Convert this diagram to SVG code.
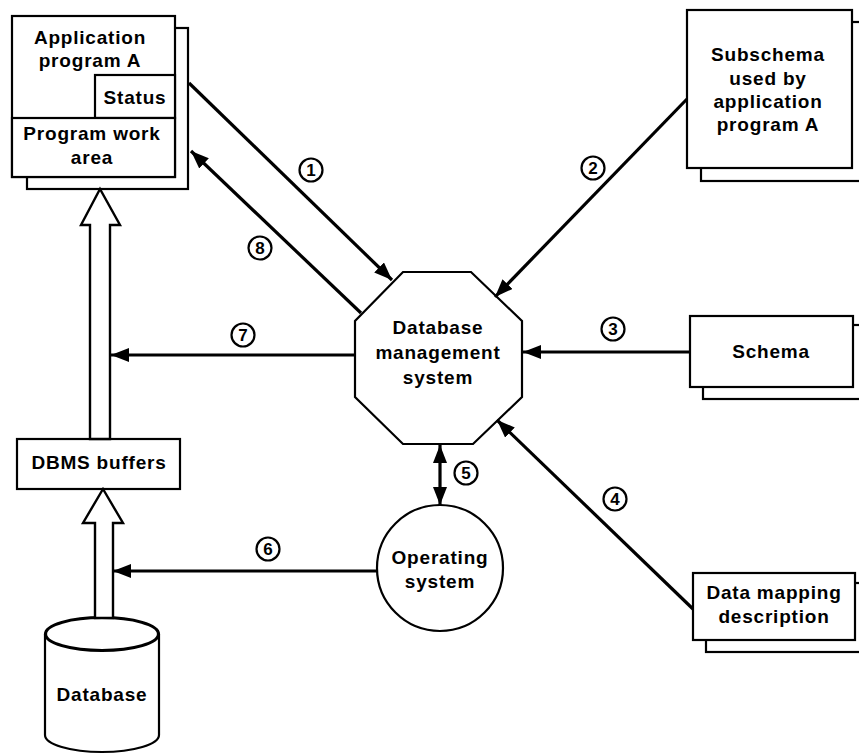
<svg xmlns="http://www.w3.org/2000/svg" width="859" height="754" viewBox="0 0 859 754">
<defs>
<style>
.box{fill:#fff;stroke:#000;stroke-width:2.2}
.t{font-family:"Liberation Sans",Arial,sans-serif;font-weight:bold;font-size:19px;letter-spacing:0.8px;text-anchor:middle;fill:#000}
.conn{stroke:#000;stroke-width:3.2;fill:none}
.num{fill:#fff;stroke:#000;stroke-width:2.2}
.nt{font-family:"Liberation Sans",Arial,sans-serif;font-weight:bold;font-size:17px;text-anchor:middle;fill:#000}
.hollow{fill:#fff;stroke:#000;stroke-width:2.4;stroke-linejoin:miter}
</style>
<marker id="ah" viewBox="0 0 18 14" refX="18" refY="7" markerWidth="18" markerHeight="14" markerUnits="userSpaceOnUse" orient="auto-start-reverse">
<path d="M0,0 L18,7 L0,14 Z" fill="#000"/>
</marker>
</defs>
<rect width="859" height="754" fill="#fff"/>

<g id="appA">
<rect class="box" x="27" y="28" width="161" height="161"/>
<rect class="box" x="12" y="16" width="163" height="161"/>
<rect class="box" x="95" y="75" width="80" height="43"/>
<rect class="box" x="12" y="118" width="163" height="59"/>
<text class="t" x="90" y="44">Application</text>
<text class="t" x="90" y="67">program A</text>
<text class="t" x="135" y="104">Status</text>
<text class="t" x="92" y="140">Program work</text>
<text class="t" x="92" y="164">area</text>
</g>

<g id="subschema">
<rect class="box" x="701" y="22" width="170" height="159"/>
<rect class="box" x="687" y="10" width="165" height="158"/>
<text class="t" x="768" y="61">Subschema</text>
<text class="t" x="768" y="85">used by</text>
<text class="t" x="768" y="108">application</text>
<text class="t" x="768" y="131">program A</text>
</g>

<g id="schema">
<rect class="box" x="703" y="325" width="170" height="74"/>
<rect class="box" x="690" y="316" width="163" height="71"/>
<text class="t" x="771" y="358">Schema</text>
</g>

<g id="datamapping">
<rect class="box" x="706" y="583" width="170" height="69"/>
<rect class="box" x="693" y="573" width="162" height="67"/>
<text class="t" x="774" y="599">Data mapping</text>
<text class="t" x="774" y="623">description</text>
</g>

<g id="dbms">
<polygon class="box" points="403,272 471,272 522,321 522,397 473,444 403,444 355,397 355,321"/>
<text class="t" x="438" y="334">Database</text>
<text class="t" x="438" y="359">management</text>
<text class="t" x="438" y="384">system</text>
</g>

<g id="os">
<circle class="box" cx="440" cy="568" r="63"/>
<text class="t" x="440" y="564">Operating</text>
<text class="t" x="440" y="588">system</text>
</g>

<g id="buffers">
<rect class="box" x="17" y="439" width="163" height="50"/>
<text class="t" x="99" y="469">DBMS buffers</text>
</g>

<g id="database">
<path class="box" d="M45,634 L45,735 A57,17 0 0 0 159,735 L159,634"/>
<ellipse class="box" cx="102" cy="634" rx="57" ry="17"/>
<text class="t" x="102" y="701">Database</text>
</g>

<g id="connectors">
<polygon class="hollow" points="90,439 90,225 81,225 100,189 120,225 110,225 110,439"/>
<polygon class="hollow" points="95,618 95,523 83,523 103,489 123,523 113,523 113,618"/>
<ellipse cx="102" cy="634" rx="56" ry="16" fill="none" stroke="#000" stroke-width="2.2"/>
<line class="conn" x1="189" y1="83" x2="392" y2="280" marker-end="url(#ah)"/>
<line class="conn" x1="361" y1="313" x2="191" y2="151" marker-end="url(#ah)"/>
<line class="conn" x1="687" y1="99" x2="495" y2="297" marker-end="url(#ah)"/>
<line class="conn" x1="690" y1="352" x2="523" y2="352" marker-end="url(#ah)"/>
<line class="conn" x1="693" y1="609" x2="497" y2="420" marker-end="url(#ah)"/>
<line class="conn" x1="440" y1="445" x2="440" y2="505" marker-start="url(#ah)" marker-end="url(#ah)"/>
<line class="conn" x1="377" y1="571" x2="113" y2="571" marker-end="url(#ah)"/>
<line class="conn" x1="355" y1="355" x2="111" y2="355" marker-end="url(#ah)"/>
</g>

<g id="labels">
<circle class="num" cx="311" cy="170" r="11.5"/><text class="nt" x="311" y="176">1</text>
<circle class="num" cx="593" cy="168" r="11.5"/><text class="nt" x="593" y="174">2</text>
<circle class="num" cx="613" cy="329" r="11.5"/><text class="nt" x="613" y="335">3</text>
<circle class="num" cx="615" cy="499" r="11.5"/><text class="nt" x="615" y="505">4</text>
<circle class="num" cx="466" cy="473" r="11.5"/><text class="nt" x="466" y="479">5</text>
<circle class="num" cx="268" cy="549" r="11.5"/><text class="nt" x="268" y="555">6</text>
<circle class="num" cx="243" cy="335" r="11.5"/><text class="nt" x="243" y="341">7</text>
<circle class="num" cx="260" cy="248" r="11.5"/><text class="nt" x="260" y="254">8</text>
</g>
</svg>
